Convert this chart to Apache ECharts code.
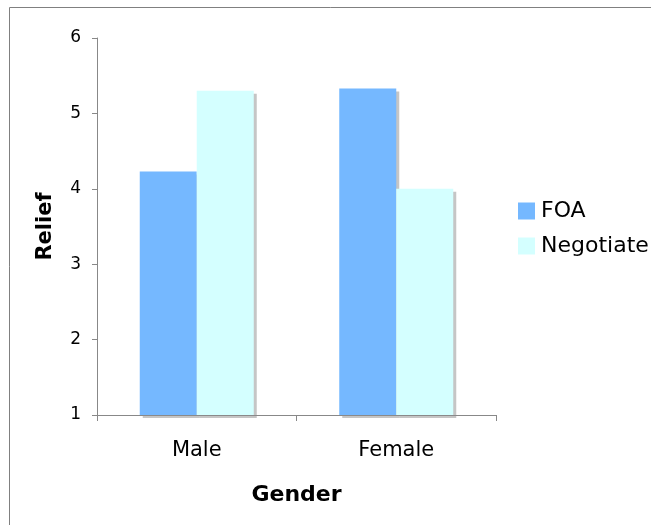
<!DOCTYPE html>
<html>
<head>
<meta charset="utf-8">
<script src="https://cdn.jsdelivr.net/npm/echarts@6/dist/echarts.min.js"></script>
<style>
  html, body { margin: 0; padding: 0; background: #fff; }
  #chart { width: 651px; height: 525px; }
</style>
</head>
<body>
<div id="chart"></div>
<script>
// Mean relief score by gender, for each strategy
const categories = ['Male', 'Female'];
const foaValues = [4.23, 5.33];
const negotiateValues = [5.30, 4.00];
const seriesNames = ['FOA', 'Negotiate'];
const yTicks = [1, 2, 3, 4, 5, 6];

const font = 'DejaVu Sans, Verdana, sans-serif';
const axisGray = '#888888';

const chart = echarts.init(document.getElementById('chart'), null, { renderer: 'canvas' });

const barStyle = (color) => ({
  color: color,
  shadowColor: 'rgba(140,140,140,0.5)',
  shadowBlur: 0,
  shadowOffsetX: 3,
  shadowOffsetY: 3
});

chart.setOption({
  animation: false,
  backgroundColor: '#ffffff',
  graphic: [{
    type: 'rect',
    shape: { x: 9.5, y: 7.5, width: 800, height: 700 },
    style: { fill: 'none', stroke: '#808080', lineWidth: 1 },
    silent: true,
    z: -1
  }],
  grid: { left: 97, top: 38, right: 155, bottom: 110, containLabel: false },
  legend: {
    orient: 'vertical',
    left: 518,
    top: 200,
    padding: 0,
    itemWidth: 17,
    itemHeight: 17,
    itemGap: 13,
    icon: 'rect',
    data: seriesNames,
    textStyle: { fontFamily: font, fontSize: 22, color: '#000', padding: [0, 0, 0, 1] }
  },
  xAxis: {
    type: 'category',
    data: categories,
    name: 'Gender',
    nameLocation: 'middle',
    nameGap: 69,
    nameTextStyle: { fontFamily: font, fontSize: 22, fontWeight: 'bold', color: '#000' },
    axisLine: { lineStyle: { color: axisGray, width: 1 } },
    axisTick: { show: true, length: 6, alignWithLabel: false, lineStyle: { color: axisGray } },
    axisLabel: { fontFamily: font, fontSize: 21, color: '#000', margin: 25 },
    splitLine: { show: false }
  },
  yAxis: {
    type: 'value',
    min: yTicks[0],
    max: yTicks[yTicks.length - 1],
    interval: 1,
    name: 'Relief',
    nameLocation: 'middle',
    nameGap: 41,
    nameRotate: 90,
    nameTextStyle: { fontFamily: font, fontSize: 21, fontWeight: 'bold', color: '#000' },
    axisLine: { show: true, lineStyle: { color: axisGray, width: 1 } },
    axisTick: { show: true, length: 5, lineStyle: { color: axisGray } },
    axisLabel: { fontFamily: font, fontSize: 17, color: '#000', margin: 16 },
    splitLine: { show: false }
  },
  series: [
    {
      name: seriesNames[0],
      type: 'bar',
      data: foaValues,
      barWidth: 57,
      barGap: '0%',
      itemStyle: barStyle('#75b8ff')
    },
    {
      name: seriesNames[1],
      type: 'bar',
      data: negotiateValues,
      barWidth: 57,
      barGap: '0%',
      itemStyle: barStyle('#d4ffff')
    }
  ]
});
</script>
</body>
</html>
